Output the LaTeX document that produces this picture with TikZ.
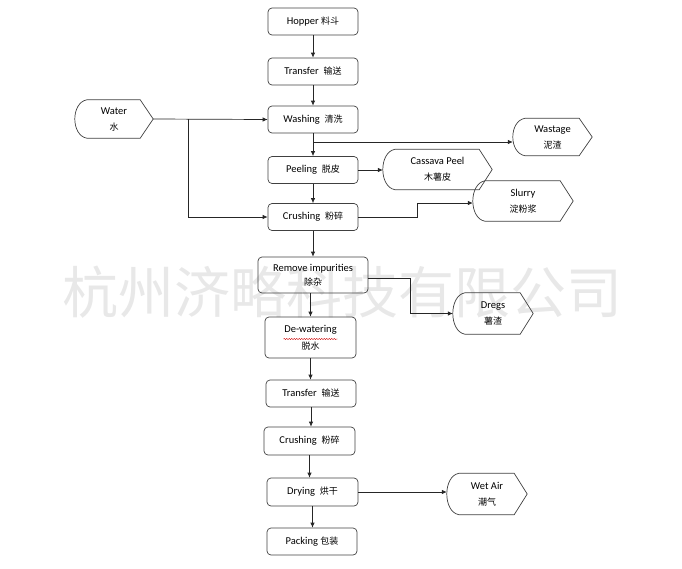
\documentclass[tikz,border=0pt]{standalone}
\usepackage{fontspec}
\setmainfont{Carlito}
\newfontfamily\cjk{Noto Sans CJK SC}
\usetikzlibrary{arrows.meta,calc,decorations.pathmorphing}
\newcommand\dispoutline[1]{%
  \draw[displine] ($(#1.north west)+(12,0)$) -- ($(#1.north east)+(-13,0)$) -- (#1.east)
    -- ($(#1.south east)+(-13,0)$) -- ($(#1.south west)+(12,0)$)
    .. controls ($(#1.south west)+(-4,-3)$) and ($(#1.north west)+(-4,3)$) .. cycle;}
\begin{document}
\begin{tikzpicture}[x=1pt,y=-1pt,
  txt/.style={font=\fontsize{10.5}{16}\selectfont, align=center, inner sep=0pt},
  box/.style={txt, draw=black!75, line width=0.7pt, rounded corners=4pt},
  disp/.style={txt},
  displine/.style={draw=black!75, line width=0.7pt},
  link/.style={draw=black!85, line width=0.7pt},
  arr/.style={link, -{Latex[length=5pt,width=4.5pt]}}]
\useasboundingbox (0,0) rectangle (682,568);
% watermark
\node[font=\cjk\fontsize{56}{60}\selectfont, text=black!9, inner sep=0pt] (wm) at (342,292) {杭州济略科技有限公司};

% main column
\node[box, minimum width=90pt, minimum height=27pt] (hopper) at (313,21.5) {Hopper {\cjk\fontsize{9}{12}\selectfont 料斗}};
\node[box, minimum width=90pt, minimum height=27pt] (transferA) at (313,71.5) {Transfer\ \ {\cjk\fontsize{9}{12}\selectfont 输送}};
\node[box, minimum width=90pt, minimum height=27pt] (washing) at (313,119.5) {Washing\ \ {\cjk\fontsize{9}{12}\selectfont 清洗}};
\node[box, minimum width=90pt, minimum height=27pt] (peeling) at (313,170) {Peeling\ \ {\cjk\fontsize{9}{12}\selectfont 脱皮}};
\node[box, minimum width=90pt, minimum height=27pt] (crushA) at (313,217) {Crushing\ \ {\cjk\fontsize{9}{12}\selectfont 粉碎}};
\node[box, minimum width=110pt, minimum height=36pt] (remove) at (313,275) {Remove impurities\\[-2pt]{\cjk\fontsize{9}{12}\selectfont 除杂}};
\node[box, minimum width=91pt, minimum height=41pt] (dewater) at (310.5,337.5) {De-watering\\[1pt]{\cjk\fontsize{9}{12}\selectfont 脱水}};
\node[box, minimum width=90pt, minimum height=27pt] (transferB) at (311,393.5) {Transfer\ \ {\cjk\fontsize{9}{12}\selectfont 输送}};
\node[box, minimum width=91pt, minimum height=28pt] (crushB) at (309.5,441) {Crushing\ \ {\cjk\fontsize{9}{12}\selectfont 粉碎}};
\node[box, minimum width=91pt, minimum height=28pt] (drying) at (312.5,492) {Drying\ \ {\cjk\fontsize{9}{12}\selectfont 烘干}};
\node[box, minimum width=90pt, minimum height=27pt] (packing) at (312,541.5) {Packing {\cjk\fontsize{9}{12}\selectfont 包装}};

% red spell-check squiggle
\coordinate (sqa) at ($(dewater.center)+(-27,1.5)$);
\coordinate (sqb) at ($(dewater.center)+(27,1.5)$);
\draw[red!80!black, line width=0.4pt, decorate, decoration={snake, segment length=2.5pt, amplitude=0.6pt}] (sqa) -- (sqb);

% side display shapes
\node[disp, minimum width=78pt, minimum height=38pt] (water) at (114,119) {Water\\{\cjk\fontsize{9}{12}\selectfont 水}};
\node[disp, minimum width=79pt, minimum height=37pt] (wastage) at (552.5,137) {Wastage\\{\cjk\fontsize{9}{12}\selectfont 泥渣}};
\node[disp, minimum width=109pt, minimum height=40pt] (peel) at (437.5,169.5) {Cassava Peel\\{\cjk\fontsize{9}{12}\selectfont 木薯皮}};
\node[disp, minimum width=100pt, minimum height=40pt] (slurry) at (523,201) {Slurry\\{\cjk\fontsize{9}{12}\selectfont 淀粉浆}};
\node[disp, minimum width=80pt, minimum height=41pt] (dregs) at (493,313.5) {Dregs\\{\cjk\fontsize{9}{12}\selectfont 薯渣}};
\node[disp, minimum width=80pt, minimum height=41pt] (wetair) at (487,494) {Wet Air\\{\cjk\fontsize{9}{12}\selectfont 潮气}};
\dispoutline{water}
\dispoutline{wastage}
\dispoutline{peel}
\dispoutline{slurry}
\dispoutline{dregs}
\dispoutline{wetair}

% vertical flow
\draw[arr] (hopper.south) -- (hopper.south |- transferA.north);
\draw[arr] (transferA.south) -- (transferA.south |- washing.north);
\draw[arr] (washing.south) -- (washing.south |- peeling.north);
\draw[arr] (peeling.south) -- (peeling.south |- crushA.north);
\draw[arr] (crushA.south) -- (crushA.south |- remove.north);
\draw[arr] (dewater.north |- remove.south) -- (dewater.north);
\draw[arr] (dewater.south) -- (dewater.south |- transferB.north);
\draw[arr] (transferB.south) -- (transferB.south |- crushB.north);
\draw[arr] (crushB.south) -- (crushB.south |- drying.north);
\draw[arr] (drying.south) -- (drying.south |- packing.north);

% water inputs
\draw[arr] (water.east) -- (washing.west);
\coordinate (wb) at (188,119);
\draw[arr] (wb) |- (crushA.west);

% outputs
\coordinate (wp) at (313,142);
\draw[arr] (wp) -- (wastage.west |- wp);
\draw[arr] (peeling.east) -- (peel.west |- peeling.east);
\coordinate (sk) at (417,203);
\draw[arr] (crushA.east) -| (sk) -- (slurry.west |- sk);
\coordinate (rk) at (410,278);
\draw[arr] (remove.east |- rk) -- (rk) |- (dregs.west);
\draw[arr] (drying.east) -- (wetair.west |- drying.east);
\end{tikzpicture}
\end{document}
